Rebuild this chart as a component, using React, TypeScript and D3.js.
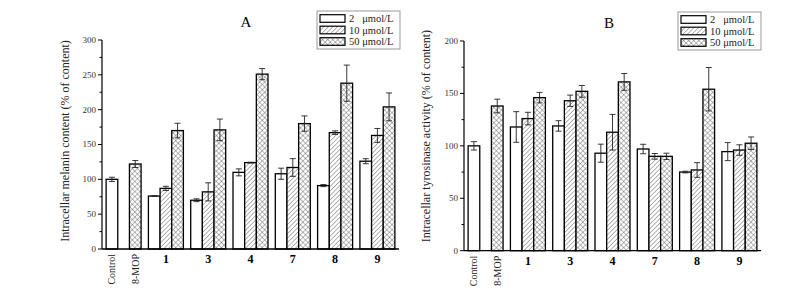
import React from "react";
import * as d3 from "d3";

const groups = ["ctrl", "1", "3", "4", "7", "8", "9"];
const groupLabels = ["", "1", "3", "4", "7", "8", "9"];
const seriesNames = ["2   μmol/L", "10 μmol/L", "50 μmol/L"];

// Panel A: melanin content (control: slot0, 8-MOP: slot2)
const melCtrl = [100, 3];
const melMop = [122, 5];
const mel2 = [76, 70, 110, 108, 91, 126];
const mel2Err = [0.5, 2, 5, 8, 1.5, 3.6];
const mel10 = [87, 82, 124, 117, 167, 163];
const mel10Err = [3, 13, 0.5, 12.7, 2.6, 10];
const mel50 = [170, 171, 251, 180, 238, 204];
const mel50Err = [10.5, 15.5, 8, 11, 26, 20];

// Panel B: tyrosinase activity
const tyrCtrl = [100, 4];
const tyrMop = [138, 6.5];
const tyr2 = [118, 119, 93, 97, 75, 94.5];
const tyr2Err = [14.6, 5, 8.6, 4.5, 0.8, 8.6];
const tyr10 = [126, 143, 113, 90, 77, 96];
const tyr10Err = [6, 5.4, 17, 2.7, 7, 5];
const tyr50 = [146, 152, 161, 90, 154, 102.5];
const tyr50Err = [5, 5.6, 8, 3, 20.7, 6];

const melTicks = [0, 50, 100, 150, 200, 250, 300];
const tyrTicks = [0, 50, 100, 150, 200];

type Bar = { g: string; slot: number; v: number; e: number; fill: number };

function buildBars(ctrl: number[], mop: number[], s2: number[], e2: number[], s10: number[], e10: number[], s50: number[], e50: number[]) {
  const bars: Bar[] = [];
  bars.push({ g: "ctrl", slot: 0, v: ctrl[0], e: ctrl[1], fill: 0 });
  bars.push({ g: "ctrl", slot: 2, v: mop[0], e: mop[1], fill: 2 });
  const gs = groups.slice(1);
  gs.forEach((g, i) => {
    bars.push({ g, slot: 0, v: s2[i], e: e2[i], fill: 0 });
    bars.push({ g, slot: 1, v: s10[i], e: e10[i], fill: 1 });
    bars.push({ g, slot: 2, v: s50[i], e: e50[i], fill: 2 });
  });
  return bars;
}

const FONT = "'Liberation Serif', 'DejaVu Serif', serif";

function Panel(props: {
  id: string; title: string; titleX: number; x0: number; x1: number; yBottom: number; yTop: number;
  max: number; ticks: number[]; bars: Bar[]; yLabel: string; yLabelX: number; yLabelY: number;
  legendX: number; legendY: number;
}) {
  const { id, x0, x1, yBottom, yTop, max, ticks, bars } = props;
  const x = d3.scaleBand<string>().domain(groups).range([x0, x1]).paddingInner(0.173).paddingOuter(0.097);
  const sub = d3.scaleBand<number>().domain([0, 1, 2]).range([0, x.bandwidth()]);
  const y = d3.scaleLinear().domain([0, max]).range([yBottom, yTop]);
  const fills = ["#fff", `url(#diag-${id})`, `url(#cross-${id})`];
  const minor = d3.range(25, max, 50);
  const cap = 3;
  return (
    <g>
      <defs>
        <pattern id={`diag-${id}`} patternUnits="userSpaceOnUse" width={3.2} height={3.2} patternTransform="rotate(45)">
          <rect width={3.2} height={3.2} fill="#fff" />
          <line x1={0} y1={0} x2={0} y2={3.2} stroke="#555" strokeWidth={0.9} />
        </pattern>
        <pattern id={`cross-${id}`} patternUnits="userSpaceOnUse" width={3.6} height={3.6} patternTransform="rotate(45)">
          <rect width={3.6} height={3.6} fill="#fff" />
          <line x1={0} y1={0} x2={0} y2={3.6} stroke="#555" strokeWidth={0.8} />
          <line x1={0} y1={0} x2={3.6} y2={0} stroke="#555" strokeWidth={0.8} />
        </pattern>
      </defs>
      {bars.map((b, i) => {
        const bx = (x(b.g) as number) + (sub(b.slot) as number);
        const w = sub.bandwidth();
        const cx = bx + w / 2;
        return (
          <g key={i}>
            <rect x={bx} y={y(b.v)} width={w} height={yBottom - y(b.v)} fill={fills[b.fill]} stroke="#000" strokeWidth={1.3} />
            <line x1={cx} x2={cx} y1={y(b.v + b.e)} y2={y(b.v - b.e)} stroke="#222" strokeWidth={0.9} />
            <line x1={cx - cap} x2={cx + cap} y1={y(b.v + b.e)} y2={y(b.v + b.e)} stroke="#222" strokeWidth={0.9} />
            <line x1={cx - cap} x2={cx + cap} y1={y(b.v - b.e)} y2={y(b.v - b.e)} stroke="#222" strokeWidth={0.9} />
          </g>
        );
      })}
      {/* axes */}
      <line x1={x0} x2={x1} y1={yBottom} y2={yBottom} stroke="#000" strokeWidth={1.3} />
      <line x1={x0} x2={x0} y1={yBottom} y2={yTop} stroke="#000" strokeWidth={1.2} />
      {ticks.map((t) => (
        <g key={t}>
          <line x1={x0 - 4} x2={x0} y1={y(t)} y2={y(t)} stroke="#000" strokeWidth={1} />
          <text x={x0 - 6} y={y(t)} dy="0.33em" textAnchor="end" fontSize={9} fill="#333" fontFamily={FONT}>{t}</text>
        </g>
      ))}
      {minor.map((t) => (
        <line key={t} x1={x0 - 2.5} x2={x0} y1={y(t)} y2={y(t)} stroke="#000" strokeWidth={1} />
      ))}
      {groups.map((g, i) => i > 0 ? (
        <text key={g} x={(x(g) as number) + x.bandwidth() / 2} y={yBottom + 14} textAnchor="middle" fontSize={12} fontWeight="bold" fontFamily={FONT} fill="#000">{groupLabels[i]}</text>
      ) : null)}
      {[["Control", 0], ["8-MOP", 2]].map(([lab, slot]) => {
        const cx = (x("ctrl") as number) + (sub(slot as number) as number) + sub.bandwidth() / 2;
        const ty = yBottom + 5;
        return (
          <text key={lab as string} transform={`translate(${cx},${ty}) rotate(-90)`} dy="0.35em" textAnchor="end" fontSize={10} fontFamily={FONT} fill="#222">{lab}</text>
        );
      })}
      <text transform={`translate(${props.yLabelX},${props.yLabelY}) rotate(-90)`} textAnchor="middle" dy="0.35em" fontSize={12} fontFamily={FONT} fill="#222">{props.yLabel}</text>
      <text x={props.titleX} y={yTop - 13} textAnchor="middle" fontSize={15} fontFamily={FONT} fill="#000">{props.title}</text>
      {/* legend */}
      <g transform={`translate(${props.legendX},${props.legendY})`}>
        <rect x={0} y={0} width={83} height={38} fill="#fff" stroke="#999" strokeWidth={1} />
        {seriesNames.map((s, i) => (
          <g key={s} transform={`translate(3,${7.5 + i * 11.5})`}>
            <rect x={0} y={-3.8} width={25} height={7.6} fill={fills[i]} stroke="#000" strokeWidth={1.2} />
            <text x={29} y={0} dy="0.35em" fontSize={10.5} fontFamily={FONT} fill="#222" style={{ whiteSpace: "pre" }}>{s}</text>
          </g>
        ))}
      </g>
    </g>
  );
}

export default function App() {
  const barsA = buildBars(melCtrl, melMop, mel2, mel2Err, mel10, mel10Err, mel50, mel50Err);
  const barsB = buildBars(tyrCtrl, tyrMop, tyr2, tyr2Err, tyr10, tyr10Err, tyr50, tyr50Err);
  return (
    <svg width={810} height={295} style={{ position: "absolute", left: 0, top: 0, background: "#fff" }}>
      <rect width={810} height={295} fill="#fff" />
      <Panel id="A" title="A" titleX={246} x0={102} x1={399} yBottom={249} yTop={40} max={300} ticks={melTicks}
        bars={barsA} yLabel="Intracellar melanin content (% of content)" yLabelX={65} yLabelY={141}
        legendX={317} legendY={11} />
      <Panel id="B" title="B" titleX={609} x0={464} x1={761} yBottom={250.7} yTop={41} max={200} ticks={tyrTicks}
        bars={barsB} yLabel="Intracellar tyrosinase activity (% of content)" yLabelX={426} yLabelY={136}
        legendX={678} legendY={12} />
    </svg>
  );
}
